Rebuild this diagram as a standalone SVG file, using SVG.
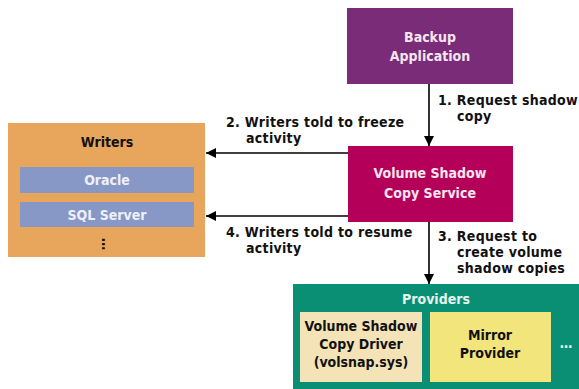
<svg xmlns="http://www.w3.org/2000/svg" width="579" height="389" viewBox="0 0 579 389">
  <defs>
    <marker id="head" viewBox="0 0 10 10" refX="10" refY="5" markerWidth="10" markerHeight="10" markerUnits="userSpaceOnUse" orient="auto">
      <path d="M0,0 L10,5 L0,10 z" fill="#000"/>
    </marker>
    <style>
      text { font-family: "DejaVu Sans Condensed", "Liberation Sans", Arial, sans-serif; font-weight: bold; font-size: 14px; }
      .lt { fill: #f6e6ef; text-anchor: middle; }
      .dk { fill: #111; text-anchor: middle; }
      .lbl { fill: #111; font-size: 14px; letter-spacing: 0.3px; }
      .edge { stroke: #000; stroke-width: 1.6; fill: none; }
    </style>
  </defs>
  <rect width="579" height="389" fill="#fff"/>

  <g id="backup">
    <rect x="347" y="8" width="166" height="76" fill="#7a2c78"/>
    <text class="lt" x="430" y="42">Backup</text>
    <text class="lt" x="430" y="61">Application</text>
  </g>

  <g id="vss">
    <rect x="348" y="146" width="165" height="76" fill="#b5005a"/>
    <text class="lt" x="430" y="178">Volume Shadow</text>
    <text class="lt" x="430" y="198">Copy Service</text>
  </g>

  <g id="writers">
    <rect x="8" y="123" width="197" height="134" fill="#e8a55c"/>
    <text class="dk" x="107" y="147">Writers</text>
    <rect x="20" y="167" width="174" height="26" fill="#8797c6"/>
    <text class="lt" x="107" y="185" style="fill:#eef0f8">Oracle</text>
    <rect x="20" y="202" width="174" height="25" fill="#8797c6"/>
    <text class="lt" x="107" y="220" style="fill:#eef0f8">SQL Server</text>
    <text class="dk" x="107" y="244" style="writing-mode:vertical-rl">…</text>
  </g>

  <g id="providers">
    <rect x="293" y="284" width="290" height="110" fill="#0b8f74"/>
    <text class="lt" x="436" y="304" style="fill:#e6f4ee">Providers</text>
    <g id="vscd">
      <rect x="300" y="312" width="122" height="70" fill="#f3e3b7"/>
      <text class="dk" x="361" y="331">Volume Shadow</text>
      <text class="dk" x="361" y="349">Copy Driver</text>
      <text class="dk" x="361" y="367">(volsnap.sys)</text>
    </g>
    <g id="mirror">
      <rect x="430" y="312" width="121" height="70" fill="#f2e57c"/>
      <text class="dk" x="490" y="340">Mirror</text>
      <text class="dk" x="490" y="358">Provider</text>
    </g>
    <text class="lt" x="566" y="348" style="fill:#e6f4ee">…</text>
  </g>

  <g id="connectors">
    <line class="edge" x1="429" y1="84" x2="429" y2="146" marker-end="url(#head)"/>
    <line class="edge" x1="348" y1="153" x2="206" y2="153" marker-end="url(#head)"/>
    <line class="edge" x1="348" y1="216" x2="206" y2="216" stroke="#888" stroke-width="2.5" marker-end="url(#head)"/>
    <line class="edge" x1="429" y1="222" x2="429" y2="284" marker-end="url(#head)"/>
  </g>

  <g id="labels">
    <text class="lbl" x="438" y="105">1. Request shadow</text>
    <text class="lbl" x="457" y="121">copy</text>
    <text class="lbl" x="226" y="127">2. Writers told to freeze</text>
    <text class="lbl" x="246" y="143">activity</text>
    <text class="lbl" x="226" y="237">4. Writers told to resume</text>
    <text class="lbl" x="246" y="253">activity</text>
    <text class="lbl" x="438" y="241">3. Request to</text>
    <text class="lbl" x="457" y="257">create volume</text>
    <text class="lbl" x="457" y="273">shadow copies</text>
  </g>
</svg>
